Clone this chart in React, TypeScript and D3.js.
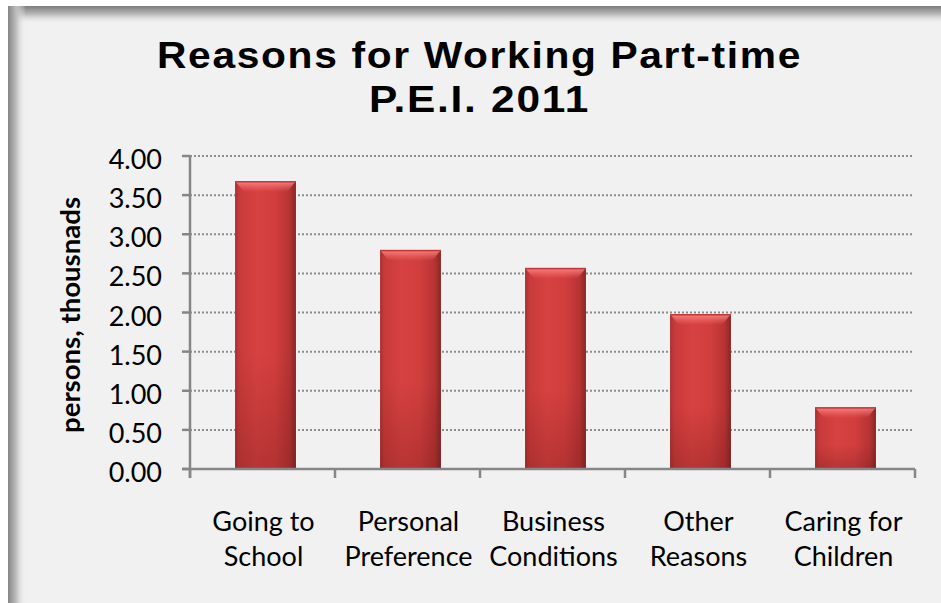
import React from "react";
import * as d3 from "d3";

const categories: string[][] = [
  ["Going to", "School"],
  ["Personal", "Preference"],
  ["Business", "Conditions"],
  ["Other", "Reasons"],
  ["Caring for", "Children"],
];
const values: number[] = [3.68, 2.8, 2.57, 1.98, 0.79];
const yTicks: number[] = [0, 0.5, 1, 1.5, 2, 2.5, 3, 3.5, 4];
const titleLines: string[] = ["Reasons for Working Part-time", "P.E.I. 2011"];
const yLabel = "persons, thousnads";

const W = 941;
const H = 603;
const plotLeft = 190;
const plotRight = 915;
const plotTop = 156;
const plotBottom = 469;

export default function App() {
  const keys = categories.map((c, i) => String(i));
  const x = d3
    .scaleBand<string>()
    .domain(keys)
    .range([plotLeft + 3, plotRight + 3])
    .paddingInner(0.58)
    .paddingOuter(0.29);
  const step = (plotRight - plotLeft) / categories.length;
  const y = d3.scaleLinear().domain([0, 4]).range([plotBottom, plotTop]);
  const bw = x.bandwidth();

  return (
    <svg
      width={W}
      height={H}
      style={{ position: "absolute", left: 0, top: 0 }}
      xmlns="http://www.w3.org/2000/svg"
    >
      <defs>
        <linearGradient id="topShadow" x1="0" y1="0" x2="0" y2="1">
          <stop offset="0%" stopColor="#7c7c7c" />
          <stop offset="45%" stopColor="#b8b8b8" />
          <stop offset="100%" stopColor="#f1f1f1" stopOpacity="0" />
        </linearGradient>
        <linearGradient id="leftShadow" x1="0" y1="0" x2="1" y2="0">
          <stop offset="0%" stopColor="#858585" />
          <stop offset="45%" stopColor="#bdbdbd" />
          <stop offset="100%" stopColor="#f1f1f1" stopOpacity="0" />
        </linearGradient>
        <linearGradient id="barH" x1="0" y1="0" x2="1" y2="0">
          <stop offset="0%" stopColor="#a83030" />
          <stop offset="7%" stopColor="#c83a3a" />
          <stop offset="35%" stopColor="#d64141" />
          <stop offset="65%" stopColor="#d23e3e" />
          <stop offset="90%" stopColor="#b63333" />
          <stop offset="100%" stopColor="#862626" />
        </linearGradient>
        <linearGradient id="barTop" x1="0" y1="0" x2="0" y2="1">
          <stop offset="0%" stopColor="#ff9090" stopOpacity="0.9" />
          <stop offset="100%" stopColor="#ff7070" stopOpacity="0" />
        </linearGradient>
        <linearGradient id="barBottom" x1="0" y1="0" x2="0" y2="1">
          <stop offset="0%" stopColor="#5a1010" stopOpacity="0" />
          <stop offset="100%" stopColor="#5a1010" stopOpacity="0.25" />
        </linearGradient>
      </defs>

      <rect x={0} y={0} width={W} height={H} fill="#ffffff" />
      <rect x={8} y={6} width={W - 8} height={H - 6} fill="#f1f1f1" />
      <rect x={8} y={6} width={W - 8} height={18} fill="url(#topShadow)" />
      <rect x={8} y={6} width={18} height={H - 6} fill="url(#leftShadow)" />

      {titleLines.map((t, i) => (
        <text
          key={t}
          x={479.5}
          y={68 + i * 44}
          textAnchor="middle"
          fontFamily="'Liberation Sans', Arial, sans-serif"
          fontWeight="bold"
          fontSize={37}
          letterSpacing={1.5}
          textLength={i === 0 ? 645 : 221}
          lengthAdjust="spacingAndGlyphs"
          fill="#000"
        >
          {t}
        </text>
      ))}

      {yTicks
        .filter((t) => t > 0)
        .map((t) => (
          <line
            key={"g" + t}
            x1={plotLeft}
            x2={913}
            y1={y(t)}
            y2={y(t)}
            stroke="#8c8c8c"
            strokeWidth={2}
            strokeDasharray="2,2"
          />
        ))}

      {values.map((v, i) => {
        const bx = x(String(i)) as number;
        const by = y(v);
        const bh = plotBottom - by;
        const bevel = Math.min(11, bh / 3);
        return (
          <g key={"b" + i}>
            <rect x={bx} y={by} width={bw} height={bh} fill="url(#barH)" />
            <rect x={bx} y={by + bh * 0.6} width={bw} height={bh * 0.4} fill="url(#barBottom)" />
            <path
              d={`M${bx},${by} L${bx + bw},${by} L${bx + bw - 9},${by + bevel} L${bx + 9},${by + bevel} Z`}
              fill="url(#barTop)"
            />
            <rect x={bx} y={by} width={bw} height={1.5} fill="#c03838" />
          </g>
        );
      })}

      <line x1={plotLeft} x2={plotLeft} y1={plotTop} y2={plotBottom + 9} stroke="#868686" strokeWidth={2.5} />
      <line x1={plotLeft - 8} x2={plotRight} y1={plotBottom} y2={plotBottom} stroke="#868686" strokeWidth={2.5} />
      {yTicks.map((t) => (
        <line key={"yt" + t} x1={plotLeft - 8} x2={plotLeft} y1={y(t)} y2={y(t)} stroke="#868686" strokeWidth={2.5} />
      ))}
      {d3.range(categories.length + 1).map((i) => (
        <line
          key={"xt" + i}
          x1={plotLeft + i * step}
          x2={plotLeft + i * step}
          y1={plotBottom}
          y2={plotBottom + 9}
          stroke="#868686"
          strokeWidth={2.5}
        />
      ))}

      {yTicks.map((t) => (
        <text
          key={"yl" + t}
          x={162}
          y={y(t) + 13}
          textAnchor="end"
          fontFamily="Lato, sans-serif"
          fontSize={27}
          fill="#000"
        >
          {t.toFixed(2)}
        </text>
      ))}

      {categories.map((c, i) => {
        const cx = plotLeft + (i + 0.5) * step + 1;
        return (
          <text
            key={"c" + i}
            textAnchor="middle"
            fontFamily="Lato, sans-serif"
            fontSize={27}
            fill="#000"
          >
            {c.map((line, j) => (
              <tspan key={j} x={cx} y={531 + j * 35}>
                {line}
              </tspan>
            ))}
          </text>
        );
      })}

      <text
        transform={`translate(80,315) rotate(-90)`}
        textAnchor="middle"
        fontFamily="Lato, sans-serif"
        fontWeight="bold"
        fontSize={26}
        textLength={236}
        lengthAdjust="spacingAndGlyphs"
        fill="#000"
      >
        {yLabel}
      </text>
    </svg>
  );
}
